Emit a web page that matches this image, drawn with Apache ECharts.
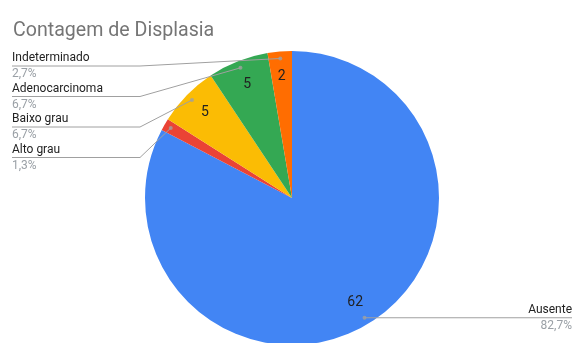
<!DOCTYPE html>
<html>
<head>
<meta charset="utf-8">
<script src="https://cdn.jsdelivr.net/npm/echarts@6/dist/echarts.min.js"></script>
<style>
  html, body { margin: 0; padding: 0; background: #fff; }
  #chart { width: 574px; height: 343px; }
</style>
</head>
<body>
<div id="chart"></div>
<script>
// Contagem de Displasia — counts per category
const categories = ['Ausente', 'Alto grau', 'Baixo grau', 'Adenocarcinoma', 'Indeterminado'];
const counts = [62, 1, 5, 5, 2];
const colors = ['#4285f4', '#ea4335', '#fbbc04', '#34a853', '#ff6d01'];

const total = counts.reduce((a, b) => a + b, 0);
const CX = 292, CY = 198, R = 147, R_DOT = 140;

// mid-angle of each slice, in value units (for the dots on the slices)
const mids = [];
let acc = 0;
counts.forEach(v => { mids.push(acc + v / 2); acc += v; });

const share = v => (v / total * 100).toFixed(1).replace('.', ',') + '%';

const pieData = categories.map((name, i) => ({ name, value: counts[i], itemStyle: { color: colors[i] } }));
// slices too thin to hold their number stay unlabelled
const valueData = categories.map((name, i) => ({
  name, value: counts[i], label: { show: counts[i] / total >= 0.02 }
}));
const ghostData = categories.map((name, i) => ({ name, value: counts[i] }));

function dotPoint(i) {
  const a = mids[i] / total * Math.PI * 2;
  return [CX + R_DOT * Math.sin(a), CY - R_DOT * Math.cos(a)];
}

const chart = echarts.init(document.getElementById('chart'), null, { renderer: 'canvas' });

chart.setOption({
  animation: false,
  textStyle: { fontFamily: 'Roboto' },
  title: {
    text: 'Contagem de Displasia',
    left: 8,
    top: 16,
    textStyle: { fontFamily: 'Roboto', fontSize: 19.6, fontWeight: 'normal', color: '#757575' }
  },
  polar: { center: [CX, CY], radius: R_DOT },
  angleAxis: { type: 'value', min: 0, max: total, startAngle: 90, clockwise: true, show: false },
  radiusAxis: { type: 'value', min: 0, max: 1, show: false },
  series: [
    {
      // coloured slices
      type: 'pie',
      center: [CX, CY],
      radius: R,
      startAngle: 90,
      clockwise: true,
      silent: true,
      label: { show: false },
      labelLine: { show: false },
      data: pieData,
      z: 1
    },
    {
      // value labels inside the slices
      type: 'pie',
      center: [CX, CY],
      radius: [92, 146],
      startAngle: 90,
      silent: true,
      itemStyle: { color: 'rgba(0,0,0,0)' },
      label: {
        show: true,
        position: 'inside',
        formatter: '{c}',
        fontFamily: 'Roboto',
        fontSize: 14,
        color: '#212121'
      },
      labelLine: { show: false },
      data: valueData,
      z: 3
    },
    {
      // category name + share, with leader lines
      type: 'pie',
      center: [CX, CY],
      radius: R_DOT,
      startAngle: 90,
      silent: true,
      avoidLabelOverlap: false,
      itemStyle: { color: 'rgba(0,0,0,0)' },
      label: {
        show: true,
        position: 'outside',
        formatter: p => '{n|' + p.name + '}\n{p|' + share(p.value) + '}',
        rich: {
          n: { fontFamily: 'Roboto', fontSize: 12, color: '#222222', lineHeight: 16 },
          p: { fontFamily: 'Roboto', fontSize: 12, color: '#9aa0a6', lineHeight: 16 }
        }
      },
      labelLine: { show: true, lineStyle: { color: '#a0a0a0', width: 1 } },
      labelLayout: function (params) {
        const d = params.dataIndex;
        const p0 = dotPoint(d);
        if (d === 0) {
          return {
            x: 572, y: p0[1], align: 'right', verticalAlign: 'middle',
            labelLinePoints: [p0, [572, p0[1]], [572, p0[1]]]
          };
        }
        const y = 66 + (categories.length - 1 - d) * 30.5;
        return {
          x: 12, y: y, align: 'left', verticalAlign: 'middle',
          labelLinePoints: [p0, [140, y], [12, y]]
        };
      },
      data: ghostData,
      z: 4
    },
    {
      // dots where the leader lines meet the slices
      type: 'scatter',
      coordinateSystem: 'polar',
      symbolSize: 4,
      silent: true,
      itemStyle: { color: '#a0a0a0' },
      data: mids.map(m => [1, m]),
      z: 5
    }
  ]
});
</script>
</body>
</html>
